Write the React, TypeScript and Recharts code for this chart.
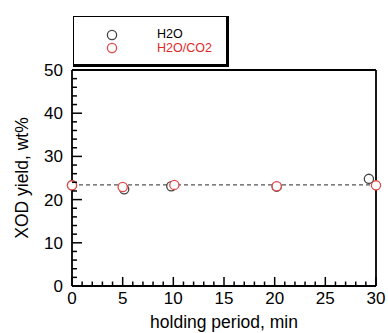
import { ScatterChart, Scatter, XAxis, YAxis, ReferenceLine, Legend } from "recharts";

/* ── data ── */
const h2o = [
  { x: 0, y: 23.3 },
  { x: 5.15, y: 22.4 },
  { x: 9.8, y: 23.1 },
  { x: 20.2, y: 23.0 },
  { x: 29.3, y: 24.8 },
];
const h2oCo2 = [
  { x: 0, y: 23.3 },
  { x: 5.0, y: 22.9 },
  { x: 10.1, y: 23.4 },
  { x: 20.2, y: 23.1 },
  { x: 30, y: 23.3 },
];
const meanYield = 23.4;
const xTicks = Array.from({ length: 31 }, (_, i) => i);
const yTicks = Array.from({ length: 26 }, (_, i) => i * 2);

const FONT = "'Liberation Sans', Arial, sans-serif";
const BLACK = "#444";
const RED = "#e04a4a";

const xTick = (side: "bottom" | "top") => (props: any) => {
  const { x, y, payload } = props;
  const v = payload.value;
  const major = v % 5 === 0;
  const len = major ? 9 : 4.5;
  const dir = side === "bottom" ? -1 : 1;
  return (
    <g>
      <line x1={x} x2={x} y1={y} y2={y + dir * len} stroke="#000" strokeWidth={1.5} />
      {side === "bottom" && major && (
        <text x={x} y={y + 18} textAnchor="middle" fontSize={17} fontFamily={FONT} fill="#000">
          {v}
        </text>
      )}
    </g>
  );
};

const yTick = (side: "left" | "right") => (props: any) => {
  const { x, y, payload } = props;
  const v = payload.value;
  const major = v % 10 === 0;
  const len = major ? 10 : 5;
  const dir = side === "left" ? 1 : -1;
  return (
    <g>
      <line x1={x} x2={x + dir * len} y1={y} y2={y} stroke="#000" strokeWidth={1.5} />
      {side === "left" && major && (
        <text x={x - 9} y={y + 6} textAnchor="end" fontSize={17} fontFamily={FONT} fill="#000">
          {v}
        </text>
      )}
    </g>
  );
};

const ring = (color: string) => (props: any) => (
  <circle cx={props.cx} cy={props.cy} r={4.6} fill="#fff" stroke={color} strokeWidth={1.3} />
);

function LegendBox() {
  const row = (color: string, textColor: string, label: string) => (
    <div style={{ display: "flex", alignItems: "center", height: 13.5 }}>
      <svg width={12} height={12} style={{ marginLeft: 32 }}>
        <circle cx={6} cy={6} r={4.6} fill="#fff" stroke={color} strokeWidth={1.3} />
      </svg>
      <span style={{ marginLeft: 39, color: textColor, fontSize: 12.5, lineHeight: "13.5px" }}>{label}</span>
    </div>
  );
  return (
    <div
      style={{
        boxSizing: "border-box",
        width: 156,
        height: 51,
        borderTop: "1.5px solid #000",
        borderLeft: "1.5px solid #000",
        borderRight: "3px solid #000",
        borderBottom: "3px solid #000",
        background: "#fff",
        paddingTop: 11,
        fontFamily: FONT,
      }}
    >
      {row(BLACK, "#000", "H2O")}
      {row(RED, "#e02a2a", "H2O/CO2")}
    </div>
  );
}

const axisLine = { stroke: "#000", strokeWidth: 1.8 };

export default function App() {
  return (
    <div style={{ position: "absolute", left: 0, top: 0, background: "#fff", fontFamily: FONT }}>
      <ScatterChart width={388} height={333} margin={{ top: 69, right: 11, bottom: 46, left: 71 }}>
        <XAxis
          type="number"
          dataKey="x"
          domain={[0, 30]}
          ticks={xTicks}
          interval={0}
          height={1}
          tickSize={0}
          tickMargin={0}
          tickLine={false}
          tick={xTick("bottom")}
          axisLine={axisLine}
          label={{ value: "holding period, min", position: "center", dy: 35, fontSize: 17.5, fill: "#000", fontFamily: FONT }}
        />
        <XAxis
          xAxisId="top"
          orientation="top"
          type="number"
          dataKey="x"
          domain={[0, 30]}
          ticks={xTicks}
          interval={0}
          height={1}
          tickSize={0}
          tickMargin={0}
          tickLine={false}
          tick={xTick("top")}
          axisLine={axisLine}
        />
        <YAxis
          type="number"
          dataKey="y"
          domain={[0, 50]}
          ticks={yTicks}
          interval={0}
          width={1}
          tickSize={0}
          tickMargin={0}
          tickLine={false}
          tick={yTick("left")}
          axisLine={axisLine}
          label={{ value: "XOD yield, wt%", angle: -90, position: "center", dx: -50, fontSize: 17.5, fill: "#000", fontFamily: FONT }}
        />
        <YAxis
          yAxisId="right"
          orientation="right"
          type="number"
          dataKey="y"
          domain={[0, 50]}
          ticks={yTicks}
          interval={0}
          width={1}
          tickSize={0}
          tickMargin={0}
          tickLine={false}
          tick={yTick("right")}
          axisLine={axisLine}
        />
        <ReferenceLine y={meanYield} stroke="#555" strokeDasharray="4 3" strokeWidth={1.2} />
        <Legend
          layout="horizontal"
          verticalAlign="middle"
          align="center"
          content={<LegendBox />}
          wrapperStyle={{ position: "absolute", left: 73, top: 16, width: 156, height: 51 }}
        />
        <Scatter name="H2O" data={h2o} shape={ring(BLACK)} isAnimationActive={false} />
        <Scatter name="H2O/CO2" data={h2oCo2} shape={ring(RED)} isAnimationActive={false} />
      </ScatterChart>
    </div>
  );
}
